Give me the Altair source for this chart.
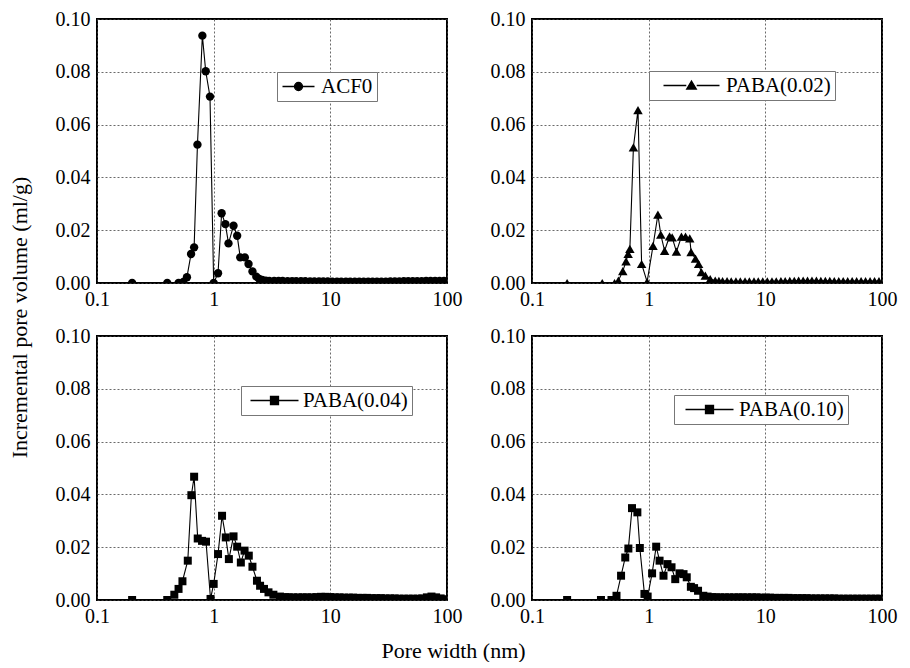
import altair as alt
import pandas as pd

# ---------------- data ----------------
names = ["ACF0", "PABA(0.02)", "PABA(0.04)", "PABA(0.10)"]

acf0_x = [0.2, 0.4, 0.5, 0.55, 0.59, 0.64, 0.68, 0.726, 0.80, 0.855, 0.93, 1.0,
          1.09, 1.17, 1.26, 1.34, 1.48, 1.59, 1.69, 1.85, 1.99, 2.15, 2.32, 2.46,
          2.6, 2.8, 3.0, 3.3, 3.6, 3.9, 4.3, 4.7, 5.1, 5.6, 6.1, 6.7, 7.3, 8.0, 8.7,
          9.5, 10.4, 11.4, 12.4, 13.6, 14.8, 16.2, 17.7, 19.3, 21.1, 23.0, 25.1,
          27.4, 29.9, 32.7, 35.7, 39.0, 42.6, 46.5, 50.8, 55.5, 60.6, 66.2, 72.3,
          79.0, 86.3, 94.2]
acf0_y = [0.0, 0.0, 0.0, 0.0004, 0.0022, 0.0110, 0.0135, 0.0524, 0.0937, 0.0802,
          0.0706, 0.0, 0.0037, 0.0264, 0.0223, 0.0150, 0.0217, 0.0179, 0.0097,
          0.0097, 0.0072, 0.0044, 0.0024, 0.0015, 0.0012, 0.0009, 0.0008, 0.0008,
          0.0008, 0.0008, 0.0007, 0.0007, 0.0007, 0.0007, 0.0007, 0.0006, 0.0006,
          0.0006, 0.0006, 0.0006, 0.0005, 0.0005, 0.0005, 0.0005, 0.0005, 0.0005,
          0.0005, 0.0005, 0.0005, 0.0005, 0.0005, 0.0005, 0.0005, 0.0006, 0.0006,
          0.0006, 0.0007, 0.0007, 0.0007, 0.0007, 0.0007, 0.0008, 0.0008, 0.0008,
          0.0008, 0.0008]

paba02_x = [0.2, 0.4, 0.51, 0.55, 0.60, 0.64, 0.667, 0.69, 0.74, 0.81, 0.87, 0.97,
            1.09, 1.20, 1.27, 1.37, 1.51, 1.59, 1.73, 1.91, 2.07, 2.25, 2.31, 2.52,
            2.68, 2.83, 3.06, 3.37, 3.72, 4.0, 4.3, 4.7, 5.1, 5.6, 6.1, 6.7, 7.3,
            8.0, 8.7, 9.5, 10.4, 11.4, 12.4, 13.6, 14.8, 16.2, 17.7, 19.3, 21.1,
            23.0, 25.1, 27.4, 29.9, 32.7, 35.7, 39.0, 42.6, 46.5, 50.8, 55.5, 60.6,
            66.2, 72.3, 79.0, 86.3, 94.2]
paba02_y = [0.0, 0.0, 0.0, 0.0009, 0.0045, 0.0082, 0.0110, 0.0129, 0.0514, 0.0655,
            0.0072, 0.0004, 0.0141, 0.0259, 0.0183, 0.0122, 0.0177, 0.0173, 0.0119,
            0.0176, 0.0176, 0.0169, 0.0117, 0.0092, 0.0072, 0.0041, 0.0028, 0.0015,
            0.0009, 0.0008, 0.0007, 0.0007, 0.0006, 0.0006, 0.0006, 0.0006, 0.0006,
            0.0006, 0.0006, 0.0006, 0.0006, 0.0006, 0.0006, 0.0007, 0.0007, 0.0008,
            0.0008, 0.0009, 0.0009, 0.0009, 0.0009, 0.0009, 0.0008, 0.0008, 0.0008,
            0.0007, 0.0007, 0.0007, 0.0007, 0.0007, 0.0007, 0.0007, 0.0007, 0.0007,
            0.0007, 0.0007]

paba04_x = [0.2, 0.4, 0.46, 0.50, 0.54, 0.60, 0.644, 0.68, 0.73, 0.795, 0.86, 0.94,
            1.0, 1.09, 1.18, 1.27, 1.35, 1.48, 1.59, 1.71, 1.84, 2.00, 2.15, 2.35,
            2.50, 2.70, 2.95, 3.25, 3.7, 4.1, 4.4, 4.8, 5.3, 5.8, 6.3, 6.9, 7.6, 8.3,
            9.1, 10.0, 10.9, 12.0, 13.1, 14.4, 15.7, 17.2, 18.9, 20.7, 22.6, 24.8,
            27.1, 29.7, 32.5, 35.6, 39.0, 42.7, 46.8, 51.2, 56.1, 61.4, 67.2, 73.6,
            80.6, 88.2, 96.6]
paba04_y = [0.0, 0.0, 0.0020, 0.0042, 0.0071, 0.0149, 0.0397, 0.0467, 0.0233, 0.0224,
            0.0221, 0.0004, 0.0061, 0.0174, 0.0319, 0.0237, 0.0155, 0.0241, 0.0202,
            0.0142, 0.0187, 0.0168, 0.0126, 0.0073, 0.0054, 0.0042, 0.0029, 0.0020,
            0.0013, 0.0011, 0.0010, 0.0010, 0.0010, 0.0010, 0.0010, 0.0010, 0.0011,
            0.0012, 0.0012, 0.0011, 0.0010, 0.0010, 0.0009, 0.0009, 0.0009, 0.0008,
            0.0008, 0.0008, 0.0007, 0.0007, 0.0007, 0.0006, 0.0006, 0.0006, 0.0005,
            0.0005, 0.0005, 0.0005, 0.0005, 0.0006, 0.0010, 0.0013, 0.0010, 0.0006,
            0.0003]

paba10_x = [0.2, 0.39, 0.48, 0.53, 0.58, 0.63, 0.67, 0.72, 0.80, 0.84, 0.92, 0.98,
            1.07, 1.16, 1.24, 1.34, 1.45, 1.57, 1.69, 1.84, 1.99, 2.12, 2.30, 2.45,
            2.65, 2.94, 3.2, 3.5, 3.8, 4.1, 4.5, 4.9, 5.4, 5.9, 6.4, 7.0, 7.7, 8.4,
            9.2, 10.1, 11.0, 12.1, 13.2, 14.4, 15.8, 17.3, 18.9, 20.7, 22.6, 24.8,
            27.1, 29.7, 32.5, 35.6, 39.0, 42.7, 46.8, 51.2, 56.1, 61.4, 67.2, 73.6,
            80.6, 88.2, 96.6]
paba10_y = [0.0, 0.0, 0.0, 0.0016, 0.0092, 0.0161, 0.0195, 0.0348, 0.0332, 0.0197,
            0.0023, 0.0013, 0.0101, 0.0202, 0.0149, 0.0092, 0.0136, 0.0124, 0.0079,
            0.0101, 0.0098, 0.0086, 0.0050, 0.0045, 0.0035, 0.0016, 0.0013, 0.0011,
            0.0010, 0.0010, 0.0010, 0.0010, 0.0010, 0.0010, 0.0010, 0.0010, 0.0010,
            0.0010, 0.0009, 0.0009, 0.0009, 0.0008, 0.0008, 0.0008, 0.0008, 0.0007,
            0.0007, 0.0007, 0.0007, 0.0006, 0.0006, 0.0006, 0.0006, 0.0006, 0.0006,
            0.0005, 0.0005, 0.0005, 0.0005, 0.0005, 0.0005, 0.0005, 0.0005, 0.0005,
            0.0005]

x_ticks = [0.1, 1, 10, 100]
y_ticks = [0.0, 0.02, 0.04, 0.06, 0.08, 0.10]

FONT = "'Liberation Serif', 'Times New Roman', serif"


def panel(xs, ys, name, shape, size, sym_path, sym_off, lab_off, lx, ly):
    df = pd.DataFrame({"w": xs, "v": ys, "s": name})
    xsc = alt.Scale(type="log", domain=[0.1, 100])
    ysc = alt.Scale(domain=[0, 0.1])
    xax = alt.Axis(values=x_ticks, format="~g", title=None, grid=True,
                   ticks=False, domain=False, labelPadding=6, labelFlush=False,
                   labelFont=FONT, labelFontSize=20, labelColor="black")
    yax = alt.Axis(values=y_ticks, format=".2f", title=None, grid=True,
                   ticks=False, domain=False, labelPadding=7,
                   labelFont=FONT, labelFontSize=20, labelColor="black")
    base = alt.Chart(df)
    line = base.mark_line(color="black", strokeWidth=1.1, clip=True).encode(
        x=alt.X("w:Q", scale=xsc, axis=xax),
        y=alt.Y("v:Q", scale=ysc, axis=yax),
    )
    pts = base.mark_point(filled=True, shape=shape, size=size, opacity=1,
                          clip=True).encode(
        x=alt.X("w:Q"),
        y=alt.Y("v:Q"),
        color=alt.Color("s:N", scale=alt.Scale(range=["black"]),
                        legend=alt.Legend(
                            title=None, orient="none", legendX=lx, legendY=ly,
                            symbolType=sym_path, symbolSize=64,
                            symbolOffset=sym_off, labelOffset=lab_off,
                            symbolFillColor="black", symbolStrokeColor="black",
                            symbolStrokeWidth=1.3,
                            labelFont=FONT, labelFontSize=21, labelColor="black",
                            strokeColor="#777777", fillColor="white",
                            padding=4, cornerRadius=0)),
    )
    return alt.layer(line, pts).properties(width=350, height=264)


circ = "M-4,0H-1M1,0H4M-1,0A1,1 0 1,0 1,0A1,1 0 1,0 -1,0Z"
tri = "M-7,0H-1.3M1.3,0H7M0,-1.1L1.2,0.9L-1.2,0.9Z"
sq = "M-6,0H-1M1,0H6M-1,-1H1V1H-1Z"

p1 = panel(acf0_x, acf0_y, names[0], "circle", 70, circ, 7, 12, 180, 53)
p2 = panel(paba02_x, paba02_y, names[1], "triangle-up", 90, tri, 28, 24, 117, 52)
p3 = panel(paba04_x, paba04_y, names[2], "square", 64, sq, 19, 18, 144, 50)
p4 = panel(paba10_x, paba10_y, names[3], "square", 64, sq, 21, 19, 142, 59)

row1 = alt.hconcat(p1, p2, spacing=26).resolve_scale(color="independent").resolve_legend(color="independent")
row2 = alt.hconcat(p3, p4, spacing=26).resolve_scale(color="independent").resolve_legend(color="independent")
inner = alt.vconcat(row1, row2, spacing=15,
                    title=alt.TitleParams("Incremental pore volume (ml/g)",
                                          orient="left", anchor="middle",
                                          font=FONT, fontSize=22,
                                          fontWeight="normal", color="black",
                                          offset=22)
                    ).resolve_scale(color="independent").resolve_legend(color="independent")
chart = alt.vconcat(inner,
                    title=alt.TitleParams("Pore width (nm)", orient="bottom",
                                          anchor="middle", font=FONT,
                                          fontSize=22, fontWeight="normal",
                                          color="black", offset=14)
                    ).resolve_scale(color="independent").resolve_legend(
    color="independent"
).properties(
    padding=0
).configure_view(
    stroke="black", strokeWidth=2
).configure_axis(
    labelFont=FONT, labelFontSize=20, labelColor="black",
    gridColor="#444444", gridDash=[2, 2], gridWidth=0.8
)

chart.save("out.html", embed_options={"renderer": "svg", "actions": False})
